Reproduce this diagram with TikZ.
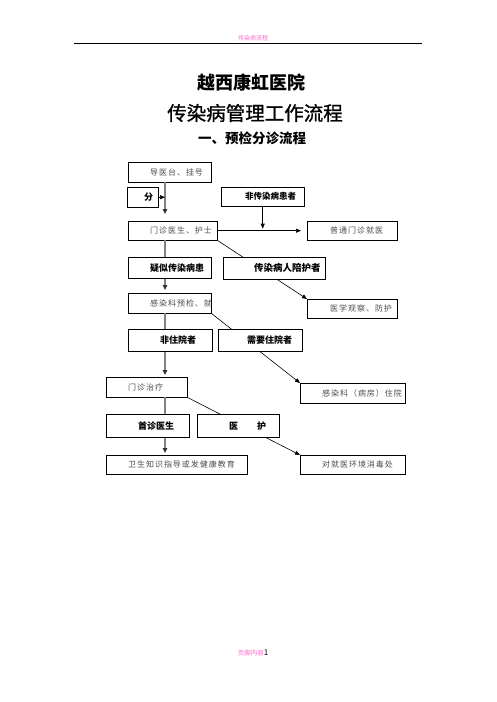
\documentclass[tikz,border=0pt]{standalone}
\usepackage{fontspec}
\newfontfamily\cjk{Noto Sans CJK SC}
\newfontfamily\cjkwide[LetterSpace=12]{Noto Sans CJK SC}
\newfontfamily\cjkmid[FakeBold=1]{Noto Sans CJK SC}
\usetikzlibrary{arrows.meta}
\definecolor{headpink}{RGB}{255,102,204}
\begin{document}
\begin{tikzpicture}[x=1pt, y=-1pt,
        gbox/.style={draw, anchor=north west, text width=#1, inner xsep=0pt, inner ysep=0pt,
                     align=left, minimum height=20pt, text=black!70, font=\cjkwide\fontsize{8}{8.5}\selectfont},
        bbox/.style={draw, fill=white, anchor=north west, text width=#1, inner xsep=0pt, inner ysep=0pt,
                     align=left, minimum height=22pt, font=\cjk\bfseries\fontsize{9}{10}\selectfont},
        spine/.style={draw=black!50, line width=1.6pt, -{Triangle[length=5pt,width=4.5pt,color=black!80]}},
        link/.style={line width=0.6pt, -{Triangle[length=5pt,width=4pt]}}]

        \useasboundingbox (0,0) rectangle (496,702);

        % header and titles
        \node[font=\cjk\fontsize{6}{6}\selectfont, text=headpink] (header) at (253,38) {传染病流程};
        \draw[line width=0.7pt] (74,43) -- (422,43);
        \node[font=\cjk\bfseries\fontsize{18}{18}\selectfont] (title) at (251,83) {越西康虹医院};
        \node[font=\cjkmid\fontsize{19.5}{20}\selectfont] (subtitle) at (255,113) {传染病管理工作流程};
        \node[font=\cjk\bfseries\fontsize{13.5}{14}\selectfont] (section) at (252,138) {一、预检分诊流程};

        \coordinate (spine) at (165,0);

        % steps
        \node[gbox=83pt] (daoyi) at (128,162) {\hspace*{22pt}导医台、挂号};
        \node[bbox=31pt, minimum height=20pt] (fen) at (127,187) {\hspace*{17pt}分};
        \node[bbox=83pt, minimum height=19pt, font=\cjk\bfseries\fontsize{8.5}{9}\selectfont] (feichuan) at (221,187) {\hspace*{24pt}非传染病患者};
        \node[gbox=89pt, minimum height=19pt] (menzhen) at (128,221) {\hspace*{22pt}门诊医生、护士};
        \node[gbox=90pt, minimum height=19pt] (putong) at (307,221) {\hspace*{23pt}普通门诊就医};
        \node[gbox=83pt] (ganran) at (128,293) {\hspace*{22pt}感染科预检、就};
        \node[gbox=90pt, minimum height=19pt] (yixue) at (307,299) {\hspace*{23pt}医学观察、防护};
        \node[gbox=81pt] (zhiliao) at (106,377) {\hspace*{22pt}门诊治疗};
        \node[gbox=105pt] (bingfang) at (300,383) {\hspace*{22pt}感染科（病房）住院};
        \node[gbox=141pt, minimum height=19pt] (weisheng) at (106,455) {\hspace*{22pt}卫生知识指导或发健康教育};
        \node[gbox=105pt, minimum height=19pt] (xiaodu) at (300,455) {\hspace*{22pt}对就医环境消毒处};

        % arrows
        \draw[spine, shorten >=7pt] (daoyi.south -| spine) -- (menzhen.north -| spine);
        \draw[link] (fen.east) -- (fen.east -| spine);
        \draw[link, shorten >=2pt] (feichuan.south) -- (feichuan.south |- menzhen.east);
        \draw[link, shorten >=6pt] (menzhen.east) -- (putong.west);
        \draw[link] (menzhen.south east) -- (yixue.north west);
        \draw[spine, shorten >=3pt] (menzhen.south -| spine) -- (ganran.north -| spine);
        \draw[link] (ganran.south east) -- (bingfang.north west);
        \draw[spine, shorten >=2pt] (ganran.south -| spine) -- (zhiliao.north -| spine);
        \draw[link] (zhiliao.south east) -- (xiaodu.north west);
        \draw[spine, shorten >=2pt] (zhiliao.south -| spine) -- (weisheng.north -| spine);

        % labels on top of the arrows
        \node[bbox=83pt, minimum height=21pt] (yisi) at (128,257) {\hspace*{22pt}疑似传染病患};
        \node[bbox=102pt, font=\cjk\bfseries\fontsize{9.5}{10.5}\selectfont] (peihu) at (223,257) {\hspace*{31pt}传染病人陪护者};
        \node[bbox=84pt] (feizhu) at (128,329) {\hspace*{32pt}非住院者};
        \node[bbox=84pt] (xuyao) at (218,329) {\hspace*{29pt}需要住院者};
        \node[bbox=83pt, minimum height=23pt] (shouzhen) at (106,414) {\hspace*{32pt}首诊医生};
        \node[bbox=82pt, minimum height=23pt] (yihu) at (197,414) {\hspace*{32pt}医\hspace{19pt}护};

        % footer
        \node[font=\cjk\fontsize{6.5}{7}\selectfont, text=headpink] (footer) at (253,653) {页脚内容\textcolor{black}{\fontsize{8}{8}\selectfont 1}};

\end{tikzpicture}
\end{document}
